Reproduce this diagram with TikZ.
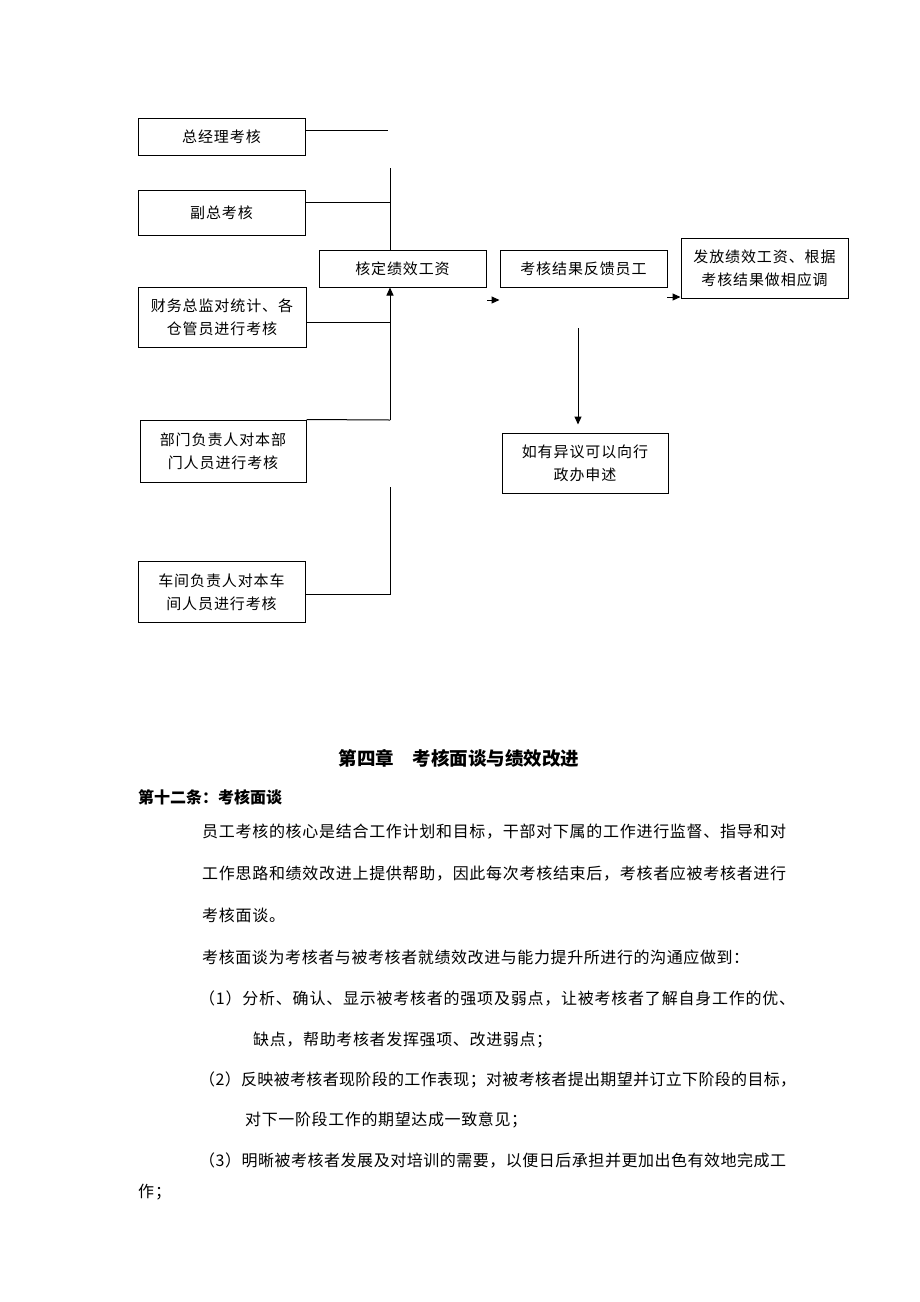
\documentclass[tikz,border=0pt]{standalone}
\usepackage{fontspec}
\setmainfont{Noto Sans CJK SC}
\newfontfamily\boxfont[LetterSpace=6]{Noto Sans CJK SC}
\newfontfamily\bodyfont{Noto Sans CJK SC}
\usetikzlibrary{arrows.meta}
% spread the characters of a line evenly over a given width
\def\spreadfirst#1{#1\spreadrest}
\def\spreadrest#1{\ifx\relax#1\else\hfil#1\expandafter\spreadrest\fi}
\newcommand\spreadline[2]{\hbox to #1{\spreadfirst#2\relax}}
\tikzset{
  box/.style={draw, line width=1pt, inner sep=0pt, align=center,
    font=\boxfont\fontsize{15}{23}\selectfont},
  conn/.style={line width=1pt},
  arr/.style={line width=1pt, -{Triangle[length=8pt,width=7pt]}},
  body/.style={anchor=west, inner sep=0pt, font=\bodyfont\fontsize{16}{20}\selectfont},
}
\begin{document}
\begin{tikzpicture}[x=1pt,y=-1pt]
\useasboundingbox (0,0) rectangle (920,1302);
\fill[white] (0,0) rectangle (920,1302);

% left boxes
\node[box, minimum width=167pt, minimum height=37pt] (A) at (221.5,136.5) {总经理考核};
\node[box, minimum width=167pt, minimum height=45pt] (B) at (221.5,212.5) {副总考核};
\node[box, minimum width=168pt, minimum height=60pt] (C) at (222,317) {财务总监对统计、各\\仓管员进行考核};
\node[box, minimum width=166pt, minimum height=62pt] (D) at (223,451) {部门负责人对本部\\门人员进行考核};
\node[box, minimum width=167pt, minimum height=61pt] (E) at (221.5,592) {车间负责人对本车\\间人员进行考核};

% middle row
\node[box, minimum width=167pt, minimum height=37pt] (F) at (402.5,268.5) {核定绩效工资};
\node[box, minimum width=167pt, minimum height=37pt] (G) at (583.5,268.5) {考核结果反馈员工};
\node[box, minimum width=167pt, minimum height=60pt] (H) at (764.5,268) {发放绩效工资、根据\\考核结果做相应调};
\node[box, minimum width=166pt, minimum height=60pt] (I) at (585,463) {如有异议可以向行\\政办申述};

% junction coordinates
\coordinate (jA) at (388,130);
\coordinate (vtop) at (390,168);
\coordinate (jB) at (390,202);
\coordinate (jC) at (390,322);
\coordinate (jD) at (390,420);
\coordinate (eTop) at (390,487);
\coordinate (jE) at (390,594);
\coordinate (a1) at (487,300);
\coordinate (a2) at (667,297);
\coordinate (dTop) at (578,328);

% connectors
\draw[conn] (A.east |- jA) -- (jA);
\draw[conn] (vtop) -- (vtop |- F.north);
\draw[conn] (B.east |- jB) -- (jB);
\draw[conn] (C.east |- jC) -- (jC);
\draw[conn] (D.north east) -- (jD);
\draw[arr] (jD) -- (jD |- F.south);
\draw[conn] (E.east |- jE) -- (jE) -- (eTop);
\draw[arr] (a1) -- (a1 -| G.west);
\draw[arr] (a2) -- (a2 -| H.west);
\draw[arr] (dTop) -- ([yshift=8pt]I.north -| dTop);

% text section
\node[inner sep=0pt, font=\fontsize{18.5}{22}\selectfont\bfseries] (title) at (459,758) {第四章\hspace{1em}考核面谈与绩效改进};
\node[anchor=west, inner sep=0pt, font=\fontsize{16}{20}\selectfont\bfseries] (art) at (138,797) {第十二条：考核面谈};

\node[body] (l1) at (202,832) {\spreadline{584pt}{员工考核的核心是结合工作计划和目标，干部对下属的工作进行监督、指导和对}};
\node[body] (l2) at (202,874) {\spreadline{584pt}{工作思路和绩效改进上提供帮助，因此每次考核结束后，考核者应被考核者进行}};
\node[body] (l3) at (202,915) {\spreadline{83pt}{考核面谈。}};
\node[body] (l4) at (202,957) {\spreadline{547pt}{考核面谈为考核者与被考核者就绩效改进与能力提升所进行的沟通应做到：}};
\node[body] (l5) at (199,998) {\spreadline{596pt}{（1）分析、确认、显示被考核者的强项及弱点，让被考核者了解自身工作的优、}};
\node[body] (l6) at (253,1040) {\spreadline{299pt}{缺点，帮助考核者发挥强项、改进弱点；}};
\node[body] (l7) at (199,1080) {\spreadline{597pt}{（2）反映被考核者现阶段的工作表现；对被考核者提出期望并订立下阶段的目标，}};
\node[body] (l8) at (245,1120) {\spreadline{282pt}{对下一阶段工作的期望达成一致意见；}};
\node[body] (l9) at (199,1160) {\spreadline{587pt}{（3）明晰被考核者发展及对培训的需要，以便日后承担并更加出色有效地完成工}};
\node[body] (l10) at (138,1192) {\spreadline{33pt}{作；}};
\end{tikzpicture}
\end{document}
